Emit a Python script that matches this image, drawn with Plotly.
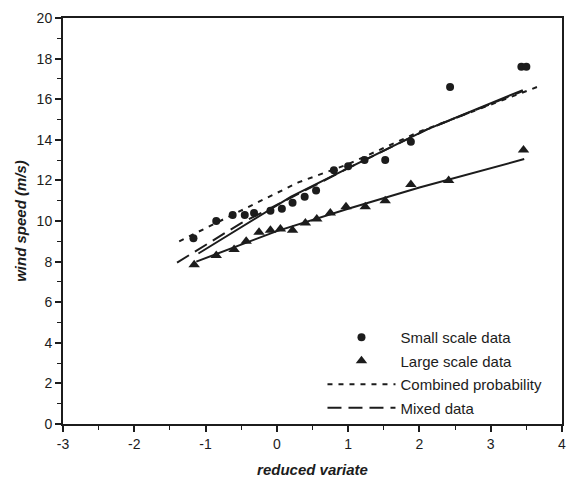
import plotly.graph_objects as go

# ---- data ----
small_x = [-1.17, -0.85, -0.62, -0.45, -0.32, -0.09, 0.07, 0.22, 0.39, 0.55, 0.80, 1.00, 1.23, 1.52, 1.88, 2.43, 3.43, 3.50]
small_y = [9.15, 10.0, 10.3, 10.3, 10.4, 10.5, 10.6, 10.9, 11.2, 11.5, 12.5, 12.7, 13.0, 13.0, 13.9, 16.6, 17.6, 17.6]

large_x = [-1.16, -0.85, -0.60, -0.43, -0.25, -0.09, 0.05, 0.22, 0.40, 0.56, 0.75, 0.97, 1.24, 1.52, 1.88, 2.41, 3.46]
large_y = [7.85, 8.3, 8.6, 9.0, 9.45, 9.55, 9.6, 9.55, 9.9, 10.1, 10.4, 10.7, 10.7, 11.0, 11.8, 12.0, 13.5]

fit_small_x = [-1.10, 0.20, 1.00, 2.10, 3.45]
fit_small_y = [8.4, 11.2, 12.6, 14.5, 16.45]

fit_large_x = [-1.13, 0.0, 1.0, 2.0, 3.47]
fit_large_y = [8.0, 9.5, 10.6, 11.65, 13.05]

combined_x = [-1.37, -0.75, -0.28, 0.30, 1.00, 2.00, 3.65]
combined_y = [9.0, 10.1, 10.9, 11.9, 12.8, 14.4, 16.6]

mixed_x = [-1.40, -0.50, 0.20, 1.00, 2.10, 3.45]
mixed_y = [7.95, 9.9, 11.15, 12.6, 14.5, 16.4]

x_ticks = [-3, -2, -1, 0, 1, 2, 3, 4]
x_labels = ["-3", "-2", "-1", "0", "1", "2", "3", "4"]
y_ticks = [0, 2, 4, 6, 8, 10, 12, 14, 16, 18, 20]
y_labels = ["0", "2", "4", "6", "8", "10", "12", "14", "16", "18", "20"]

INK = "#1c1c1c"
FONT = "Liberation Sans, Arial, sans-serif"

fig = go.Figure()

# fitted lines (not in legend)
fig.add_trace(go.Scatter(x=fit_small_x, y=fit_small_y, mode="lines",
                         line=dict(color=INK, width=2), showlegend=False, hoverinfo="skip"))
fig.add_trace(go.Scatter(x=fit_large_x, y=fit_large_y, mode="lines",
                         line=dict(color=INK, width=2), showlegend=False, hoverinfo="skip"))

fig.add_trace(go.Scatter(x=small_x, y=small_y, mode="markers", name="Small scale data",
                         legendgroup="a",
                         marker=dict(symbol="circle", size=8, color=INK)))
fig.add_trace(go.Scatter(x=large_x, y=large_y, mode="markers", name="Large scale data",
                         legendgroup="b",
                         marker=dict(symbol="triangle-up", size=10, color=INK)))
fig.add_trace(go.Scatter(x=combined_x, y=combined_y, mode="lines", name="Combined probability",
                         legendgroup="c",
                         line=dict(color=INK, width=2, dash="5px,6px")))
fig.add_trace(go.Scatter(x=mixed_x, y=mixed_y, mode="lines", name="Mixed data",
                         legendgroup="d",
                         line=dict(color=INK, width=2, dash="14px,7px")))

axis_common = dict(
    showgrid=False, zeroline=False,
    showline=True, linecolor=INK, linewidth=2, mirror=True,
    ticks="outside", tickcolor=INK, tickwidth=1.5,
    tickfont=dict(family=FONT, size=14, color=INK),
)

fig.update_xaxes(range=[-3, 4], tickvals=x_ticks, ticktext=x_labels, ticklen=6,
                 minor=dict(dtick=0.5, ticks="outside", ticklen=4, tickcolor=INK, tickwidth=1.2),
                 title=dict(text="reduced variate", standoff=14,
                            font=dict(family=FONT, size=15, color=INK, weight="bold", style="italic")),
                 **axis_common)
fig.update_yaxes(range=[0, 20], tickvals=y_ticks, ticktext=y_labels, ticklen=6,
                 minor=dict(dtick=1, ticks="outside", ticklen=4, tickcolor=INK, tickwidth=1.2),
                 title=dict(text="wind speed (m/s)", standoff=6,
                            font=dict(family=FONT, size=15, color=INK, weight="bold", style="italic")),
                 **axis_common)

fig.update_layout(
    width=576, height=493,
    margin=dict(l=63, r=10, t=13, b=69),
    paper_bgcolor="white", plot_bgcolor="white",
    font=dict(family=FONT, color=INK),
    legend=dict(x=0.52, y=0.0, xanchor="left", yanchor="bottom",
                bgcolor="rgba(0,0,0,0)", itemwidth=68, tracegroupgap=1,
                font=dict(family=FONT, size=15, color=INK)),
)

fig.write_html("out.html")
